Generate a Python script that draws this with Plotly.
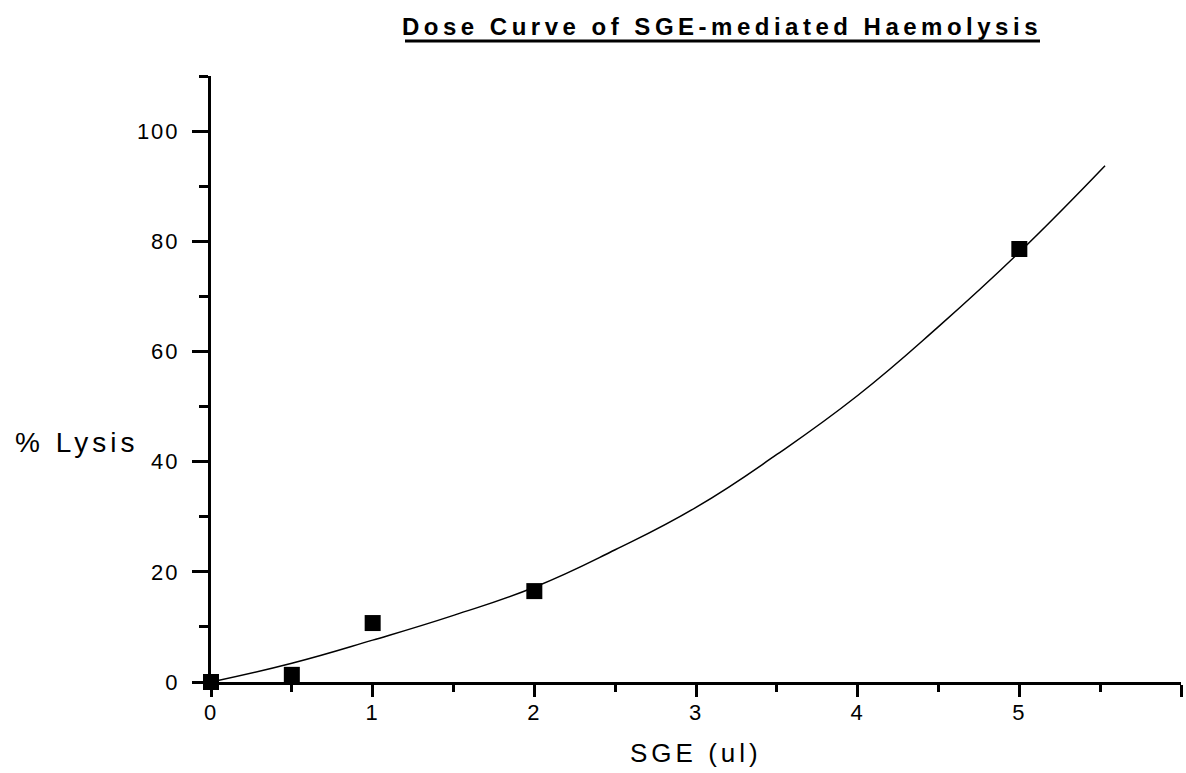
import plotly.graph_objects as go

# Measured points
dose_x = [0, 0.5, 1, 2, 5]
lysis_y = [0, 1.3, 10.7, 16.5, 78.6]

# Fitted curve
curve_x = [0, 0.5, 1, 1.5, 2, 2.5, 3, 3.5, 4, 4.5, 5, 5.53]
curve_y = [0, 3.4, 7.6, 12.1, 17.2, 24.0, 31.7, 41.3, 52.0, 64.5, 78.0, 93.7]

x_ticks = [0, 1, 2, 3, 4, 5, 6]
y_ticks = [0, 20, 40, 60, 80, 100]

title_text = "Dose Curve of SGE-mediated Haemolysis"
x_title = "SGE (ul)"
y_title = "% Lysis"

FONT = "Liberation Sans, Arial, Helvetica, sans-serif"

fig = go.Figure()
fig.add_trace(go.Scatter(
    x=curve_x, y=curve_y, mode="lines",
    line=dict(color="black", width=1.5, shape="spline", smoothing=1.3),
    hoverinfo="skip", showlegend=False, cliponaxis=False,
))
fig.add_trace(go.Scatter(
    x=dose_x, y=lysis_y, mode="markers",
    marker=dict(symbol="square", size=16, color="black", line=dict(width=0)),
    showlegend=False, cliponaxis=False,
))

axis_common = dict(
    showgrid=False, zeroline=False, showline=True, linecolor="black", linewidth=3,
    ticks="outside", tickcolor="black", tickwidth=2.5,
    tickfont=dict(family=FONT, size=22, color="black"),
)

fig.update_xaxes(
    range=[0, 6], tickvals=x_ticks, ticklen=12, ticklabelstandoff=-3,
    minor=dict(dtick=0.5, ticks="outside", ticklen=7, tickwidth=2.5, tickcolor="black", showgrid=False),
    **axis_common,
)
fig.update_yaxes(
    range=[0, 110], tickvals=y_ticks, ticklen=16, ticklabelstandoff=8,
    minor=dict(dtick=10, ticks="outside", ticklen=9, tickwidth=2.5, tickcolor="black", showgrid=False),
    **axis_common,
)

fig.update_layout(
    width=1186, height=773,
    margin=dict(l=211, r=5, t=76, b=91),
    paper_bgcolor="white", plot_bgcolor="white",
    title=dict(
        text=f"<b>{title_text}</b>", x=722 / 1186, xanchor="center", xref="container",
        y=1 - 27 / 773, yanchor="middle", yref="container",
        font=dict(family=FONT, size=24, color="black"),
    ),
    shapes=[dict(type="line", xref="paper", yref="paper",
                 x0=(405 - 211) / 970, x1=(1040 - 211) / 970,
                 y0=(682 - 41) / 606, y1=(682 - 41) / 606,
                 line=dict(color="black", width=3))],
    annotations=[
        dict(text=y_title, xref="paper", yref="paper", x=(76 - 211) / 970, y=(682 - 443) / 606,
             xanchor="center", yanchor="middle", showarrow=False,
             font=dict(family=FONT, size=28, color="black")),
        dict(text=x_title, xref="paper", yref="paper", x=0.5, y=-(753 - 682) / 606,
             xanchor="center", yanchor="middle", showarrow=False,
             font=dict(family=FONT, size=26, color="black")),
    ],
)

post = """
var gd = document.getElementById('{plot_id}');
gd.querySelectorAll('.gtitle').forEach(function(e){ e.style.letterSpacing = '4.5px'; });
gd.querySelectorAll('.annotation-text').forEach(function(e){ e.style.letterSpacing = '4px'; });
gd.querySelectorAll('.xtick text, .ytick text').forEach(function(e){ e.style.letterSpacing = '2px'; });
"""
fig.write_html("out.html", post_script=post)
